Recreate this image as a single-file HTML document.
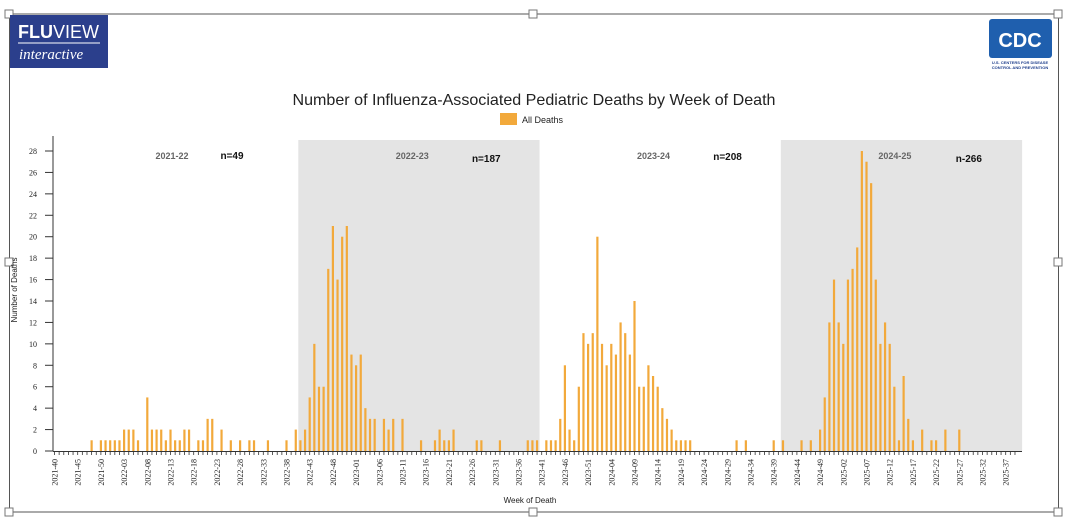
<!DOCTYPE html>
<html><head><meta charset="utf-8">
<style>
html,body{margin:0;padding:0;background:#fff;}
svg{display:block;font-family:"Liberation Sans",sans-serif;}
</style></head>
<body>
<svg id="chart" width="1073" height="524" viewBox="0 0 1073 524" xmlns="http://www.w3.org/2000/svg">
  <rect x="0" y="0" width="1073" height="524" fill="#fff"/>
  <g stroke="#555" stroke-width="1" fill="none">
    <line x1="9" y1="14" x2="1058" y2="14"/>
    <line x1="9" y1="512" x2="1058" y2="512"/>
    <line x1="9.5" y1="14" x2="9.5" y2="512"/>
    <line x1="1058.5" y1="14" x2="1058.5" y2="512"/>
  </g>
  <g fill="#fff" stroke="#777" stroke-width="1">
    <rect x="5" y="10" width="8" height="8"/><rect x="529" y="10" width="8" height="8"/><rect x="1054" y="10" width="8" height="8"/>
    <rect x="5" y="258" width="8" height="8"/><rect x="1054" y="258" width="8" height="8"/>
    <rect x="5" y="508" width="8" height="8"/><rect x="529" y="508" width="8" height="8"/><rect x="1054" y="508" width="8" height="8"/>
  </g>
  <g>
    <rect x="10" y="15" width="98" height="53" fill="#2b3f8c"/>
    <text x="18" y="38" fill="#fff" font-size="18" font-weight="bold">FLU<tspan font-weight="normal">VIEW</tspan></text>
    <line x1="18" y1="43" x2="100" y2="43" stroke="#fff" stroke-width="1"/>
    <text x="19" y="59" fill="#fff" font-size="15" font-style="italic" font-family="Liberation Serif,serif">interactive</text>
  </g>
  <g>
    <rect x="989" y="19" width="63" height="39" rx="3" fill="#1f5fae"/>
    <text x="1020" y="47" fill="#fff" font-size="20" font-weight="bold" text-anchor="middle">CDC</text>
    <text x="1020" y="64" fill="#1f3f8c" font-size="4" font-weight="bold" text-anchor="middle">U.S. CENTERS FOR DISEASE</text>
    <text x="1020" y="69" fill="#1f3f8c" font-size="4" font-weight="bold" text-anchor="middle">CONTROL AND PREVENTION</text>
  </g>
  <text x="534" y="105" font-size="16" textLength="483" lengthAdjust="spacingAndGlyphs" text-anchor="middle" fill="#222">Number of Influenza-Associated Pediatric Deaths by Week of Death</text>
  <g>
    <rect x="500" y="113" width="17" height="12" fill="#f2a93b"/>
    <text x="522" y="123" font-size="9" fill="#222">All Deaths</text>
  </g>
  <g id="bands"></g>
  <g id="bars"></g>
  <g id="axes"></g>
  <text transform="translate(17,290) rotate(-90)" font-size="8" text-anchor="middle" fill="#222">Number of Deaths</text>
  <text x="530" y="503" font-size="8" text-anchor="middle" fill="#222">Week of Death</text>
</svg>
<script>
const seasons = ["2021-22","2022-23","2023-24","2024-25"];
const seasonTotals = ["n=49","n=187","n=208","n-266"];
const s1 = [0,0,0,0,0,0,0,0,1,0,1,1,1,1,1,2,2,2,1,0,5,2,2,2,1,2,1,1,2,2,0,1,1,3,3,0,2,0,1,0,1,0,1,1,0,0,1,0,0,0,1,0];
const s2 = [2,1,2,5,10,6,6,17,21,16,20,21,9,8,9,4,3,3,0,3,2,3,0,3,0,0,0,1,0,0,1,2,1,1,2,0,0,0,0,1,1,0,0,0,1,0,0,0,0,0,1,1];
const s3 = [1,0,1,1,1,3,8,2,1,6,11,10,11,20,10,8,10,9,12,11,9,14,6,6,8,7,6,4,3,2,1,1,1,1,0,0,0,0,0,0,0,0,0,1,0,1,0,0,0,0,0,1];
const s4 = [0,1,0,0,0,1,0,1,0,2,5,12,16,12,10,16,17,19,28,27,25,16,10,12,10,6,1,7,3,1,0,2,0,1,1,0,2,0,0,2,0,0,0,0,0,0,0,0,0,0,0,0];
const yTicks = [0,2,4,6,8,10,12,14,16,18,20,22,24,26,28];

const NS="http://www.w3.org/2000/svg";
const values = s1.concat(s2,s3,s4);
const weekLabels = [];
for (let y=2021;y<=2025;y++){const a=(y===2021)?40:1,b=(y===2025)?39:52;for(let w=a;w<=b;w++)weekLabels.push(y+"-"+String(w).padStart(2,"0"));}
const x0=54.5, step=4.64, yBase=451, yUnit=300/28;
const xPos=i=>x0+i*step;
const yPos=v=>yBase-v*yUnit;
function mk(tag,attrs,parent){const e=document.createElementNS(NS,tag);for(const k in attrs)e.setAttribute(k,attrs[k]);parent.appendChild(e);return e;}

const bands=document.getElementById('bands');
seasons.forEach((s,k)=>{
  const start=xPos(k*52)+2.5;
  if(k%2===1){
    const r=mk('rect',{x:start,y:140,width:52*step,height:yBase-140,fill:'#e4e4e4'},bands);
    
    
  }
  const t=mk('text',{x:start+120-(k===0?5:6),y:159,'font-size':9,'font-weight':'bold',fill:'#666','text-anchor':'middle'},bands);
  t.textContent=s;
  
  
  const n=mk('text',{x:start+(k===0?175:188),y:k===0?159:(k===2?160:162),'font-size':10,'font-weight':'bold',fill:'#111','text-anchor':'middle'},bands);
  n.textContent=seasonTotals[k];
  
  
});

const bars=document.getElementById('bars');
values.forEach((v,i)=>{
  if(v<=0)return;
  const r=mk('rect',{x:xPos(i)-1.1,y:yPos(v),width:2.2,height:v*yUnit,fill:'#f2a93b'},bars);
  
  
});

const axes=document.getElementById('axes');
const ya=mk('line',{x1:53,y1:136,x2:53,y2:yBase,stroke:'#333','stroke-width':1},axes);


yTicks.forEach(t=>{
  mk('line',{x1:45,y1:yPos(t),x2:53,y2:yPos(t),stroke:'#333','stroke-width':1},axes);
  const l=mk('text',{x:37,y:yPos(t)+3,'font-size':8,'text-anchor':'end',fill:'#222','font-family':'Liberation Serif,serif'},axes);
  l.textContent=t;
  
  
});
const xa=mk('line',{x1:53,y1:yBase+0.5,x2:1022,y2:yBase+0.5,stroke:'#333','stroke-width':1},axes);


weekLabels.forEach((w,i)=>{
  mk('line',{x1:xPos(i),y1:yBase,x2:xPos(i),y2:yBase+4,stroke:'#333','stroke-width':0.8},axes);
  if(i%5===0){
    const l=mk('text',{transform:'translate('+(xPos(i)+3)+','+(yBase+8)+') rotate(-90)','font-size':8,'text-anchor':'end',fill:'#222','font-family':'Liberation Serif,serif'},axes);
    l.textContent=w;
    
    
  }
});
</script>
</body></html>
